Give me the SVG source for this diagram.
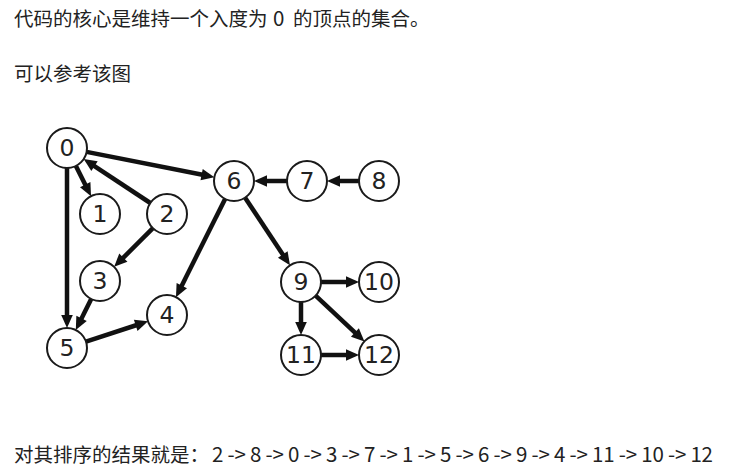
<svg xmlns="http://www.w3.org/2000/svg" width="748" height="471" viewBox="0 0 748 471">
<style>
.t{font-family:"Noto Sans CJK SC","Noto Sans",sans-serif;font-size:19.5px;fill:#222}
.d{font-size:20.5px}
.n circle{fill:#fff;stroke:#1a1a1a;stroke-width:2}
.n text{font-family:"DejaVu Sans",sans-serif;font-size:23.5px;fill:#222;text-anchor:middle;dominant-baseline:central}
.e{stroke:#111;stroke-width:4.5;fill:none;marker-end:url(#ah)}
</style>
<defs>
<marker id="ah" markerUnits="userSpaceOnUse" markerWidth="14" markerHeight="12" refX="6" refY="0" orient="auto" overflow="visible">
<path d="M0,-5.8 L13,0 L0,5.8 z" fill="#111"/>
</marker>
</defs>
<rect width="748" height="471" fill="#fff"/>
<text class="t" x="14" y="26">代码的核心是维持一个入度为</text>
<text class="t d" x="273" y="26">0</text>
<text class="t" x="293" y="26">的顶点的集合。</text>
<text class="t" x="14" y="81">可以参考该图</text>
<text class="t" x="14" y="462">对其排序的结果就是：</text>
<text class="t d" x="212" y="462" textLength="501" lengthAdjust="spacing">2 -&gt; 8 -&gt; 0 -&gt; 3 -&gt; 7 -&gt; 1 -&gt; 5 -&gt; 6 -&gt; 9 -&gt; 4 -&gt; 11 -&gt; 10 -&gt; 12</text>
<g id="edges">
<line class="e" x1="86.6" y1="151.9" x2="207.5" y2="175.8"/>
<line class="e" x1="75.9" y1="165.9" x2="87.9" y2="189.9"/>
<line class="e" x1="150.3" y1="203" x2="89.5" y2="162.9"/>
<line class="e" x1="67" y1="168" x2="67" y2="321"/>
<line class="e" x1="152.9" y1="228.1" x2="119.1" y2="261.9"/>
<line class="e" x1="91.2" y1="298.9" x2="78.9" y2="323.8"/>
<line class="e" x1="86" y1="341.7" x2="141.4" y2="323.5"/>
<line class="e" x1="225.1" y1="198.9" x2="179.1" y2="290.9"/>
<line class="e" x1="245.1" y1="197.7" x2="286.1" y2="259.5"/>
<line class="e" x1="287" y1="181" x2="261" y2="181"/>
<line class="e" x1="359" y1="181" x2="334" y2="181"/>
<line class="e" x1="321" y1="282" x2="352" y2="282"/>
<line class="e" x1="301" y1="302" x2="301" y2="328"/>
<line class="e" x1="315.6" y1="295.7" x2="359.3" y2="336.6"/>
<line class="e" x1="321" y1="355" x2="352" y2="355"/>
</g>
<g id="node0" class="n"><circle cx="67" cy="148" r="20"/><text x="67" y="148">0</text></g>
<g id="node1" class="n"><circle cx="100" cy="214" r="20"/><text x="100" y="214">1</text></g>
<g id="node2" class="n"><circle cx="167" cy="214" r="20"/><text x="167" y="214">2</text></g>
<g id="node3" class="n"><circle cx="100" cy="281" r="20"/><text x="100" y="281">3</text></g>
<g id="node4" class="n"><circle cx="167" cy="315" r="20"/><text x="167" y="315">4</text></g>
<g id="node5" class="n"><circle cx="67" cy="348" r="20"/><text x="67" y="348">5</text></g>
<g id="node6" class="n"><circle cx="234" cy="181" r="20"/><text x="234" y="181">6</text></g>
<g id="node7" class="n"><circle cx="307" cy="181" r="20"/><text x="307" y="181">7</text></g>
<g id="node8" class="n"><circle cx="379" cy="181" r="20"/><text x="379" y="181">8</text></g>
<g id="node9" class="n"><circle cx="301" cy="282" r="20"/><text x="301" y="282">9</text></g>
<g id="node10" class="n"><circle cx="379" cy="282" r="20"/><text x="379" y="282">10</text></g>
<g id="node11" class="n"><circle cx="301" cy="355" r="20"/><text x="301" y="355">11</text></g>
<g id="node12" class="n"><circle cx="379" cy="355" r="20"/><text x="379" y="355">12</text></g>
</svg>
